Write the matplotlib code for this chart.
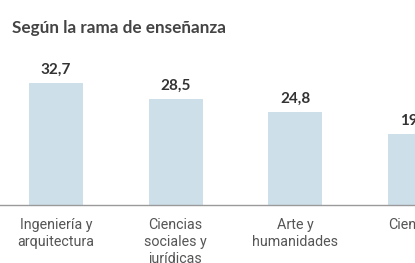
import matplotlib.pyplot as plt

# data
categorias = ["Ingeniería y\narquitectura", "Ciencias\nsociales y\njurídicas",
              "Arte y\nhumanidades", "Ciencias"]
valores = [32.7, 28.5, 24.8, 19.1]
etiquetas = ["32,7", "28,5", "24,8", "19,1"]

fig = plt.figure(figsize=(4.15, 2.63), dpi=100)
fig.patch.set_facecolor("white")

ax = fig.add_axes([0, 0.2205, 1, 0.7795])
x = list(range(len(valores)))
ax.bar(x, valores, width=0.45, color="#cde0ea", zorder=2)
ax.set_xlim(-0.468, 3.0)
ax.set_ylim(0, 54.95)
ax.axhline(0, color="#9a9a9a", lw=1.0, zorder=3, clip_on=False)

for xi, v, lab in zip(x, valores, etiquetas):
    ax.annotate(lab, (xi, v), xytext=(0, 9.6), textcoords="offset points",
                ha="center", va="center", fontsize=11, fontweight="bold",
                color="#333333", family="Lato", annotation_clip=False)

for xi, cat in zip(x, categorias):
    ax.annotate(cat, (xi, 0), xycoords=("data", "axes fraction"),
                xytext=(0, -9.5), textcoords="offset points",
                ha="center", va="top", fontsize=10.3, color="#555555",
                family="Roboto", linespacing=1.25, annotation_clip=False)

ax.axis("off")

fig.text(12 / 415, 1 - 28 / 263, "Según la rama de enseñanza", ha="left",
         va="center", fontsize=12.3, fontweight="bold", color="#444444",
         family="Lato")

fig.savefig("out.png", dpi=100)
